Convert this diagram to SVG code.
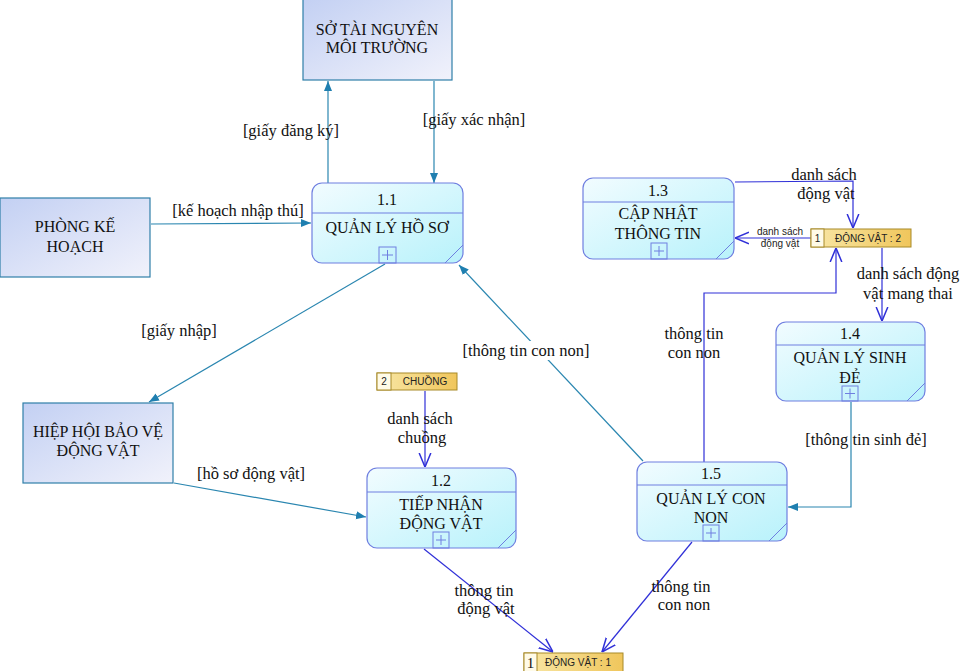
<svg xmlns="http://www.w3.org/2000/svg" width="967" height="671" viewBox="0 0 967 671">
<style>
.ent{fill:url(#gEnt);stroke:#2f7fa8;stroke-width:1.2}
.proc{fill:url(#gProc);stroke:#6f7fe0;stroke-width:1.2}
.div{stroke:#6f7fe0;stroke-width:1}
.plus{fill:none;stroke:#6f7fe0;stroke-width:1}
.ds{fill:url(#gDs);stroke:#a88a28;stroke-width:1}
.t{font-family:"Liberation Serif","Times New Roman",serif;font-size:16px;fill:#111;text-anchor:middle}
.l{font-family:"Liberation Serif","Times New Roman",serif;font-size:16.5px;fill:#111;text-anchor:middle}
.s{font-family:"Liberation Sans",Arial,sans-serif;font-size:10px;fill:#222;text-anchor:middle}
.teal{stroke:#2a86b0;stroke-width:1.2;fill:none}
.blue{stroke:#3030d8;stroke-width:1.2;fill:none}
</style>
<defs>
<linearGradient id="gEnt" x1="0" y1="0" x2="1" y2="1">
<stop offset="0" stop-color="#c3d0f3"/><stop offset="1" stop-color="#f1f2fb"/>
</linearGradient>
<linearGradient id="gProc" x1="0" y1="0" x2="1" y2="1">
<stop offset="0" stop-color="#f2fcff"/><stop offset="1" stop-color="#b8f2fb"/>
</linearGradient>
<linearGradient id="gDs" x1="0" y1="0" x2="1" y2="0">
<stop offset="0" stop-color="#f8e7a6"/><stop offset="1" stop-color="#f0c65c"/>
</linearGradient>
<marker id="aT" viewBox="0 0 10 10" refX="10" refY="5" markerWidth="10" markerHeight="10" markerUnits="userSpaceOnUse" orient="auto">
<path d="M0,1 L10,5 L0,9 z" fill="#1f7fb0"/>
</marker>
<marker id="aB" viewBox="0 0 12 12" refX="12" refY="6" markerWidth="14" markerHeight="14" markerUnits="userSpaceOnUse" orient="auto">
<path d="M0,1 L12,6 L0,11" fill="none" stroke="#3030d8" stroke-width="1.3"/>
</marker>
</defs>

<g id="connectors">
<path class="teal" d="M328,184 L328,81" marker-end="url(#aT)"/>
<text class="l" x="291" y="136">[giấy đăng ký]</text>
<path class="teal" d="M434,81 L434,183" marker-end="url(#aT)"/>
<text class="l" x="474" y="125">[giấy xác nhận]</text>
<path class="teal" d="M151,224 L311,223" marker-end="url(#aT)"/>
<text class="l" x="238" y="216">[kế hoạch nhập thú]</text>
<path class="teal" d="M385,264 L149,402" marker-end="url(#aT)"/>
<text class="l" x="179" y="336">[giấy nhập]</text>
<path class="teal" d="M174,483 L366,517" marker-end="url(#aT)"/>
<text class="l" x="251" y="479">[hồ sơ động vật]</text>
<path class="teal" d="M643,461 L459,265" marker-end="url(#aT)"/>
<rect x="460" y="341" width="132" height="19" fill="#fff"/>
<text class="l" x="526" y="356">[thông tin con non]</text>
<path class="teal" d="M851,402 L851,507 L788,507" marker-end="url(#aT)"/>
<text class="l" x="866" y="445">[thông tin sinh đẻ]</text>

<path class="blue" d="M735,182 L853,181 L853,228" marker-end="url(#aB)"/>
<text class="l" x="824" y="180">danh sách</text>
<text class="l" x="826" y="199">động vật</text>
<path class="blue" d="M811,238 L735,238" marker-end="url(#aB)"/>
<text class="s" x="780" y="235">danh sách</text>
<text class="s" x="780" y="247">động vật</text>
<path class="blue" d="M882,248 L882,321" marker-end="url(#aB)"/>
<text class="l" x="908" y="279">danh sách động</text>
<text class="l" x="908" y="299">vật mang thai</text>
<path class="blue" d="M704,462 L704,293 L836,293 L836,248" marker-end="url(#aB)"/>
<text class="l" x="694" y="339">thông tin</text>
<text class="l" x="694" y="358">con non</text>
<path class="blue" d="M425,391 L425,467" marker-end="url(#aB)"/>
<text class="l" x="420" y="424">danh sách</text>
<text class="l" x="422" y="443">chuồng</text>
<path class="blue" d="M424,549 L553,652" marker-end="url(#aB)"/>
<text class="l" x="484" y="596">thông tin</text>
<text class="l" x="486" y="614">động vật</text>
<path class="blue" d="M692,542 L602,652" marker-end="url(#aB)"/>
<text class="l" x="681" y="592">thông tin</text>
<text class="l" x="684" y="610">con non</text>
</g>

<g id="e-so-tai-nguyen">
<rect class="ent" x="303" y="-1" width="149" height="81"/>
<text class="t" x="377" y="35">SỞ TÀI NGUYÊN</text>
<text class="t" x="377" y="53">MÔI TRƯỜNG</text>
</g>
<g id="e-phong-ke-hoach">
<rect class="ent" x="0" y="198" width="150" height="79"/>
<text class="t" x="75" y="232">PHÒNG KẾ</text>
<text class="t" x="75" y="252">HOẠCH</text>
</g>
<g id="e-hiep-hoi">
<rect class="ent" x="23" y="403" width="150" height="80"/>
<text class="t" x="98" y="437">HIỆP HỘI BẢO VỆ</text>
<text class="t" x="98" y="456">ĐỘNG VẬT</text>
</g>

<g id="p-1-1">
<rect class="proc" x="312" y="183" width="151" height="80" rx="10"/>
<line class="div" x1="312" y1="213" x2="463" y2="213"/>
<line class="div" x1="445" y1="263" x2="463" y2="245"/>
<rect class="plus" x="379" y="247" width="17" height="16"/>
<path class="plus" d="M382,255 h11 M387.5,250 v10"/>
<text class="t" x="387" y="205">1.1</text>
<text class="t" x="387" y="233">QUẢN LÝ HỒ SƠ</text>
</g>
<g id="p-1-2">
<rect class="proc" x="367" y="468" width="149" height="80" rx="10"/>
<line class="div" x1="367" y1="492" x2="516" y2="492"/>
<line class="div" x1="498" y1="548" x2="516" y2="530"/>
<rect class="plus" x="433" y="532" width="16" height="16"/>
<path class="plus" d="M436,540 h10 M441,535 v10"/>
<text class="t" x="441" y="486">1.2</text>
<text class="t" x="441" y="510">TIẾP NHẬN</text>
<text class="t" x="441" y="529">ĐỘNG VẬT</text>
</g>
<g id="p-1-3">
<rect class="proc" x="583" y="178" width="151" height="81" rx="10"/>
<line class="div" x1="583" y1="202" x2="734" y2="202"/>
<line class="div" x1="716" y1="259" x2="734" y2="241"/>
<rect class="plus" x="651" y="243" width="16" height="16"/>
<path class="plus" d="M654,251 h10 M659,246 v10"/>
<text class="t" x="658" y="196">1.3</text>
<text class="t" x="658" y="219">CẬP NHẬT</text>
<text class="t" x="658" y="239">THÔNG TIN</text>
</g>
<g id="p-1-4">
<rect class="proc" x="776" y="322" width="149" height="79" rx="10"/>
<line class="div" x1="776" y1="345" x2="925" y2="345"/>
<line class="div" x1="907" y1="401" x2="925" y2="383"/>
<rect class="plus" x="842" y="386" width="16" height="15"/>
<path class="plus" d="M845,393.5 h10 M850,388.5 v10"/>
<text class="t" x="850" y="339">1.4</text>
<text class="t" x="850" y="363">QUẢN LÝ SINH</text>
<text class="t" x="850" y="383">ĐẺ</text>
</g>
<g id="p-1-5">
<rect class="proc" x="637" y="462" width="150" height="79" rx="10"/>
<line class="div" x1="637" y1="485" x2="787" y2="485"/>
<line class="div" x1="769" y1="541" x2="787" y2="523"/>
<rect class="plus" x="703" y="525" width="16" height="16"/>
<path class="plus" d="M706,533 h10 M711,528 v10"/>
<text class="t" x="711" y="479">1.5</text>
<text class="t" x="711" y="504">QUẢN LÝ CON</text>
<text class="t" x="711" y="523">NON</text>
</g>

<g id="ds-dong-vat-2">
<rect class="ds" x="811" y="229" width="100" height="18"/>
<rect x="811" y="229" width="13" height="18" fill="#fffbe8" stroke="#a88a28"/>
<text class="s" x="817.5" y="242">1</text>
<text class="s" x="868" y="242">ĐỘNG VẬT : 2</text>
</g>
<g id="ds-chuong">
<rect class="ds" x="377" y="373" width="80" height="17"/>
<rect x="377" y="373" width="14" height="17" fill="#fffbe8" stroke="#a88a28"/>
<text class="s" x="384" y="385">2</text>
<text class="s" x="425" y="385">CHUỒNG</text>
</g>
<g id="ds-dong-vat-1">
<rect class="ds" x="524" y="653" width="99" height="19"/>
<rect x="524" y="653" width="13" height="19" fill="#fffbe8" stroke="#a88a28"/>
<text class="t" x="530.5" y="668" style="font-size:15px">1</text>
<text class="s" x="578" y="666">ĐỘNG VẬT : 1</text>
</g>
</svg>
